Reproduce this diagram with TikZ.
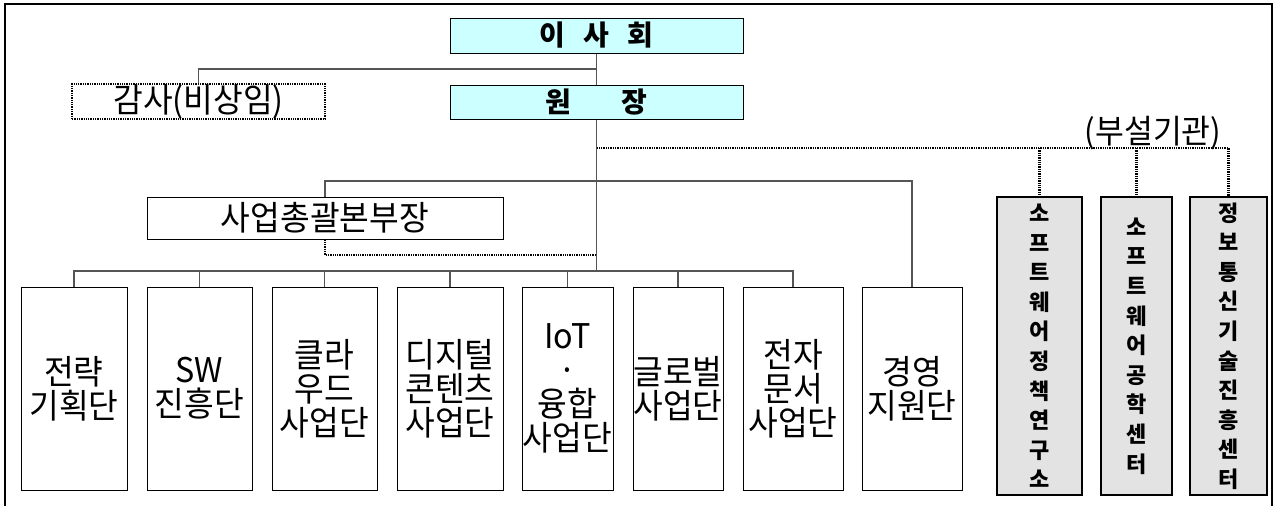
\documentclass[tikz,border=0pt]{standalone}
\usepackage{fontspec}
\newfontfamily\kr{Noto Sans CJK KR}[FakeStretch=0.95]
\newfontfamily\krb{Noto Sans CJK KR}
\definecolor{boardfill}{HTML}{CCFFFF}
\definecolor{subfill}{HTML}{E3E3E3}
\definecolor{connclr}{HTML}{555555}
\tikzset{
  box/.style={draw=black, line width=1pt, inner sep=0pt, align=center, text=black},
  topbox/.style={box, fill=boardfill, font={\krb\bfseries\fontsize{28}{30}\selectfont}},
  regbox/.style={box, font={\kr\fontsize{34}{34}\selectfont}},
  unitbox/.style={regbox, minimum height=203pt},
  subbox/.style={box, line width=2.6pt, fill=subfill, minimum height=298pt,
    font={\krb\bfseries\fontsize{22}{29.6}\selectfont}},
  conn/.style={draw=connclr, line width=1.2pt},
  dotline/.style={draw=black, line width=2.2pt, dash pattern=on 1.3pt off 1pt},
}
\begin{document}
\begin{tikzpicture}[x=1pt,y=-1pt]
\useasboundingbox (0,0) rectangle (1275,506);
% frame
\draw[line width=1.5pt] (5,530) -- (5,4) -- (1272,4) -- (1272,530);

% top boxes
\node[topbox, minimum width=293pt, minimum height=35pt] (board) at (596.5,35.5) {이\hspace{18pt}사\hspace{18pt}회};
\node[topbox, minimum width=293pt, minimum height=34pt] (pres) at (596.5,102) {원\hspace{50pt}장};
\node[box, dotline, minimum width=253pt, minimum height=35pt, font={\kr\fontsize{34}{34}\selectfont}] (audit) at (198.5,101.5) {감사(비상임)};

% business head
\node[regbox, minimum width=356pt, minimum height=42pt] (head) at (325,218) {사업총괄본부장};

% units
\node[unitbox, minimum width=106pt] (u1) at (74,388.5) {전략\\기획단};
\node[unitbox, minimum width=105pt] (u2) at (199.5,388.5) {SW\\진흥단};
\node[unitbox, minimum width=105pt] (u3) at (324.5,388.5) {클라\\우드\\사업단};
\node[unitbox, minimum width=106pt] (u4) at (450,388.5) {디지털\\콘텐츠\\사업단};
\node[unitbox, minimum width=91pt] (u5) at (567.5,388.5) {IoT\\·\\융합\\사업단};
\node[unitbox, minimum width=90pt] (u6) at (678,388.5) {글로벌\\사업단};
\node[unitbox, minimum width=100pt] (u7) at (793,388.5) {전자\\문서\\사업단};
\node[unitbox, minimum width=100pt] (u8) at (912,388.5) {경영\\지원단};

% affiliated institutions
\node[inner sep=0pt, font={\kr\fontsize{33}{33}\selectfont}] (afflab) at (1153,133) {(부설기관)};
\node[subbox, minimum width=85pt] (s1) at (1039.5,346) {소\\프\\트\\웨\\어\\정\\책\\연\\구\\소};
\node[subbox, minimum width=71pt] (s2) at (1136.5,346) {소\\프\\트\\웨\\어\\공\\학\\센\\터};
\node[subbox, minimum width=77pt] (s3) at (1228.5,346) {정\\보\\통\\신\\기\\술\\진\\흥\\센\\터};

% junction coordinates on the main axis
\coordinate (j69) at (596.5,69);
\coordinate (j148) at (596.5,148);
\coordinate (j181) at (596.5,181);
\coordinate (j255) at (596.5,255);
\coordinate (j271) at (596.5,271);

% solid connectors
\draw[conn] (board.south) -- (pres.north);
\draw[conn] (j69) -| (audit.north);
\draw[conn] (pres.south) -- (j271);
\draw[conn] (head.north) |- (u8.north |- j181) -- (u8.north);
\draw[conn] (u1.north) |- (u7.north |- j271) -- (u7.north);
\foreach \u in {u2,u3,u4,u5,u6}{
  \draw[conn] (\u.north |- j271) -- (\u.north);
}

% dotted connectors
\draw[dotline] (head.south) |- (j255);
\draw[dotline] (j148) -| (s3.north);
\draw[dotline] (s1.north |- j148) -- (s1.north);
\draw[dotline] (s2.north |- j148) -- (s2.north);
\end{tikzpicture}
\end{document}
